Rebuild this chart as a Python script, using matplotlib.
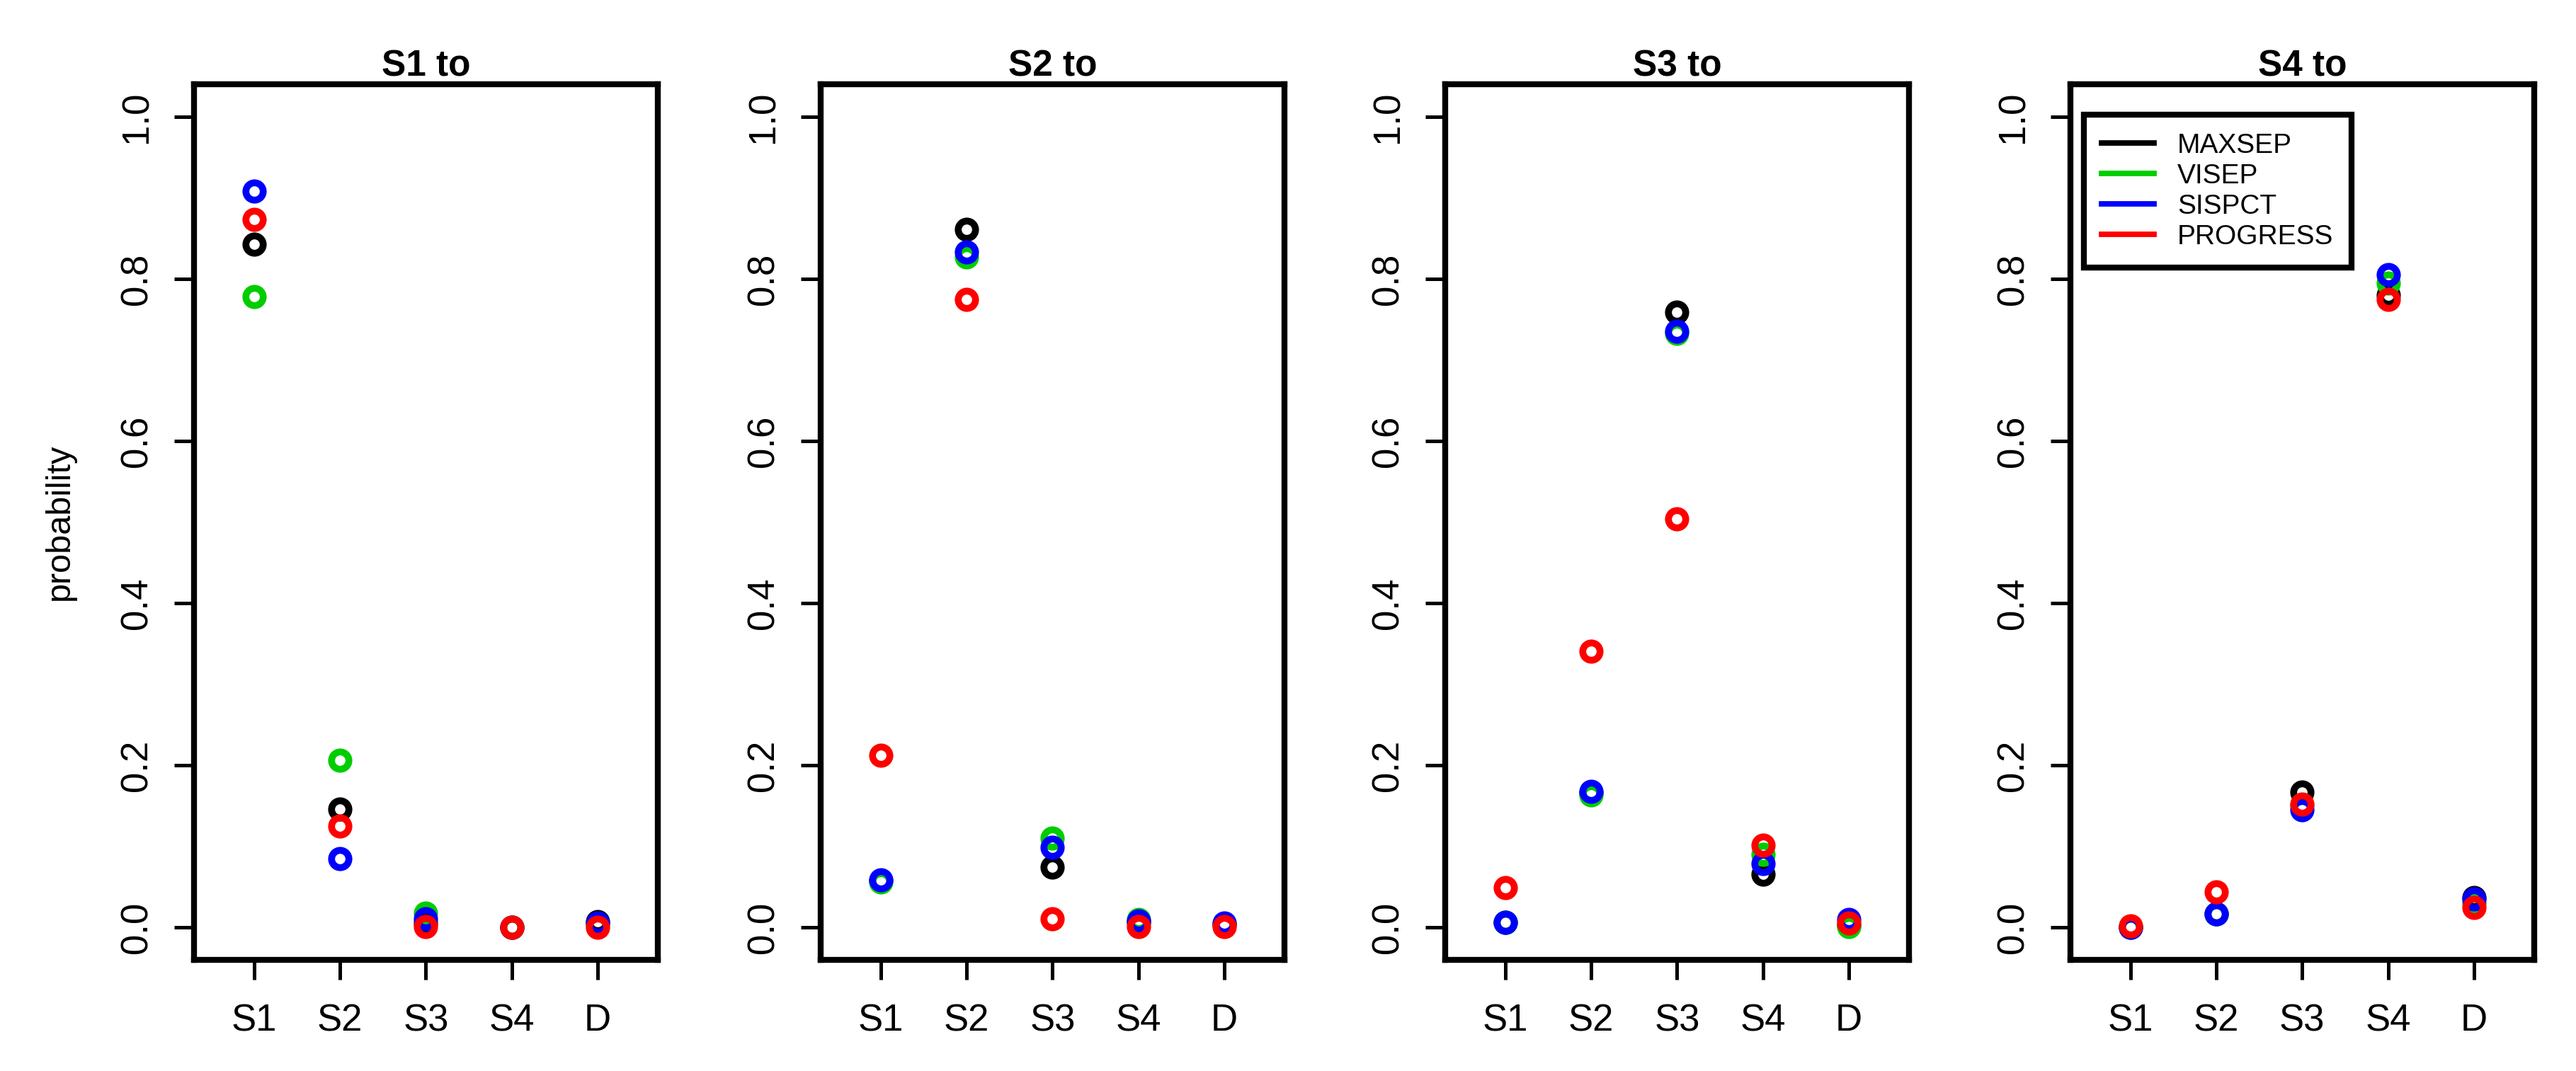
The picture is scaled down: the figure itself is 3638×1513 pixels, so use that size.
import matplotlib
matplotlib.use("Agg")
import matplotlib.pyplot as plt
from matplotlib.lines import Line2D
import numpy as np

plt.rcParams['font.family'] = ['Liberation Sans', 'DejaVu Sans']

# transition probabilities, rows = from state (S1..S4), cols = to state
states = ["S1", "S2", "S3", "S4", "D"]
panel_titles = ["S1 to", "S2 to", "S3 to", "S4 to"]
methods = ["MAXSEP", "VISEP", "SISPCT", "PROGRESS"]
method_colors = ["black", "#00CD00", "#0000FF", "#FF0000"]

maxsep = [
    [0.843, 0.146, 0.005, 0.000, 0.007],
    [0.058, 0.861, 0.074, 0.006, 0.004],
    [0.006, 0.166, 0.759, 0.066, 0.003],
    [0.000, 0.017, 0.167, 0.780, 0.037],
]
visep = [
    [0.778, 0.206, 0.0175, 0.000, 0.004],
    [0.056, 0.827, 0.110, 0.010, 0.004],
    [0.006, 0.163, 0.733, 0.090, 0.001],
    [0.000, 0.017, 0.150, 0.795, 0.030],
]
sispct = [
    [0.908, 0.085, 0.011, 0.000, 0.005],
    [0.059, 0.833, 0.099, 0.008, 0.005],
    [0.006, 0.168, 0.735, 0.079, 0.010],
    [0.000, 0.017, 0.145, 0.805, 0.035],
]
progress = [
    [0.873, 0.125, 0.001, 0.000, 0.000],
    [0.212, 0.775, 0.011, 0.001, 0.001],
    [0.049, 0.341, 0.504, 0.101, 0.005],
    [0.002, 0.044, 0.152, 0.775, 0.025],
]
series = [maxsep, visep, sispct, progress]

fig = plt.figure(figsize=(18.19, 7.565), dpi=200)

lefts = [0.0753, 0.3186, 0.561, 0.8037]
x = np.arange(1, len(states) + 1)

for p, left in enumerate(lefts):
    ax = fig.add_axes([left, 0.1038, 0.180, 0.8175])
    for vals, col in zip(series, method_colors):
        ax.plot(x, vals[p], 'o', mfc='none', mec=col, mew=3.5, ms=8.8)

    ax.set_xlim(0.3, 5.7)
    ax.set_ylim(-0.04, 1.04)
    ax.set_xticks(x)
    ax.set_xticklabels(states, fontsize=19)
    ax.set_yticks(np.arange(0, 1.01, 0.2))
    ax.set_yticklabels([f"{v:.1f}" for v in np.arange(0, 1.01, 0.2)],
                       fontsize=19, rotation=90, va='center')
    ax.tick_params(axis='x', length=10, width=1.8, pad=12)
    ax.tick_params(axis='y', length=10, width=1.8, pad=10)
    for s in ax.spines.values():
        s.set_linewidth(3.0)
    ax.set_title(panel_titles[p], fontsize=18.5, fontweight='bold', pad=4)

    if p == 0:
        ax.set_ylabel("probability", fontsize=17.5, labelpad=22)

    if p == 3:
        handles = [Line2D([0], [0], color=c, lw=2.8) for c in method_colors]
        leg = ax.legend(handles, methods, loc='upper left',
                        bbox_to_anchor=(0.029, 0.965), fontsize=14,
                        fancybox=False, framealpha=1, edgecolor='black',
                        handlelength=1.9, handletextpad=0.85,
                        labelspacing=0.18, borderpad=0.65, borderaxespad=0)
        leg.get_frame().set_linewidth(3.0)

fig.savefig("out.png", dpi=200)
